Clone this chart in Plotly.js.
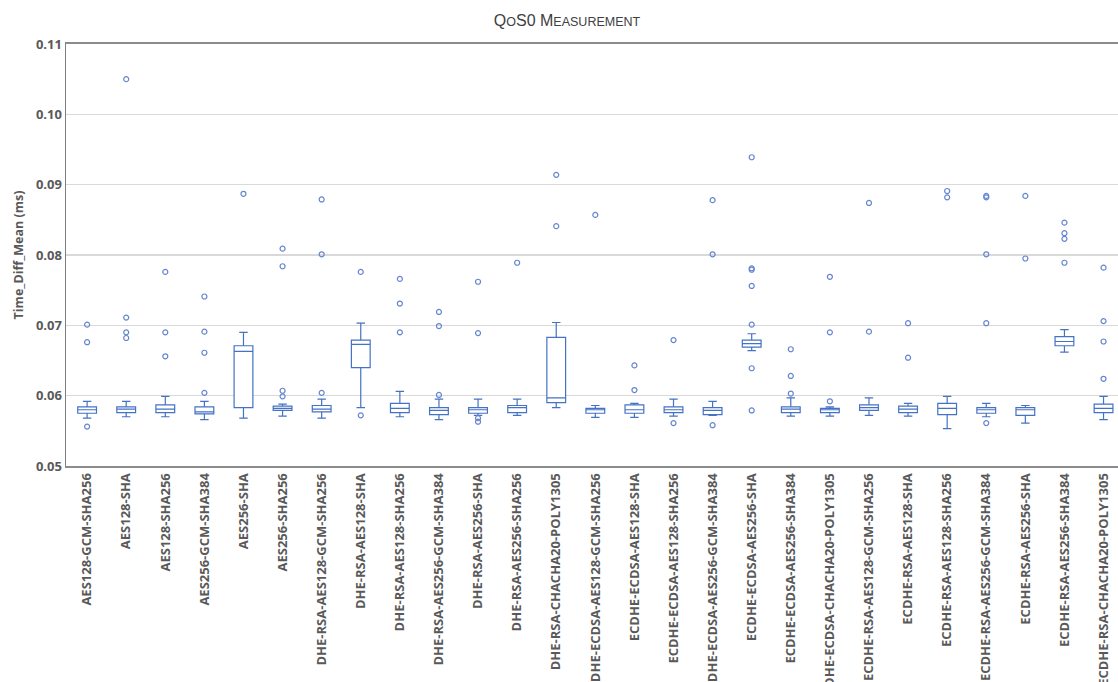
<!DOCTYPE html>
<html>
<head>
<meta charset="utf-8">
<script src="https://cdn.plot.ly/plotly-3.0.1.min.js"></script>
<style>html,body{margin:0;padding:0;background:#fff;}#chart{width:1118px;height:682px;}</style>
</head>
<body>
<div id="chart"></div>
<script>
var categories = [
  "AES128-GCM-SHA256","AES128-SHA","AES128-SHA256","AES256-GCM-SHA384","AES256-SHA","AES256-SHA256",
  "DHE-RSA-AES128-GCM-SHA256","DHE-RSA-AES128-SHA","DHE-RSA-AES128-SHA256","DHE-RSA-AES256-GCM-SHA384",
  "DHE-RSA-AES256-SHA","DHE-RSA-AES256-SHA256","DHE-RSA-CHACHA20-POLY1305","ECDHE-ECDSA-AES128-GCM-SHA256",
  "ECDHE-ECDSA-AES128-SHA","ECDHE-ECDSA-AES128-SHA256","ECDHE-ECDSA-AES256-GCM-SHA384","ECDHE-ECDSA-AES256-SHA",
  "ECDHE-ECDSA-AES256-SHA384","ECDHE-ECDSA-CHACHA20-POLY1305","ECDHE-RSA-AES128-GCM-SHA256","ECDHE-RSA-AES128-SHA",
  "ECDHE-RSA-AES128-SHA256","ECDHE-RSA-AES256-GCM-SHA384","ECDHE-RSA-AES256-SHA","ECDHE-RSA-AES256-SHA384",
  "ECDHE-RSA-CHACHA20-POLY1305"
];
var lowerFence = [0.0568,0.0570,0.0570,0.0566,0.0568,0.0571,0.0568,0.0583,0.0570,0.0566,0.0572,0.0572,0.0583,0.0569,0.0569,0.0571,0.0572,0.0664,0.0571,0.0571,0.0572,0.0571,0.0553,0.0570,0.0561,0.0662,0.0566];
var q1Values   = [0.0575,0.0576,0.0576,0.0574,0.0583,0.0579,0.0577,0.0640,0.0576,0.0573,0.0575,0.0576,0.0590,0.0575,0.0575,0.0576,0.0573,0.0669,0.0576,0.0576,0.0579,0.0576,0.0573,0.0575,0.0572,0.0671,0.0576];
var medians    = [0.0580,0.0581,0.0581,0.0577,0.0663,0.0582,0.0581,0.0673,0.0582,0.0579,0.0580,0.0583,0.0597,0.0580,0.0580,0.0580,0.0579,0.0674,0.0581,0.0580,0.0583,0.0581,0.0582,0.0580,0.0580,0.0677,0.0582];
var q3Values   = [0.0584,0.0584,0.0587,0.0584,0.0671,0.0585,0.0586,0.0679,0.0589,0.0583,0.0583,0.0586,0.0683,0.0582,0.0587,0.0584,0.0583,0.0679,0.0584,0.0582,0.0587,0.0585,0.0589,0.0583,0.0583,0.0684,0.0588];
var upperFence = [0.0592,0.0592,0.0599,0.0592,0.0690,0.0588,0.0595,0.0703,0.0606,0.0595,0.0595,0.0595,0.0704,0.0586,0.0589,0.0595,0.0592,0.0688,0.0597,0.0584,0.0597,0.0589,0.0599,0.0589,0.0586,0.0694,0.0599];
var outliers = [
  [0.0701,0.0676,0.0556],
  [0.1050,0.0711,0.0690,0.0682],
  [0.0776,0.0690,0.0656],
  [0.0741,0.0691,0.0661,0.0604],
  [0.0887],
  [0.0809,0.0784,0.0607,0.0599],
  [0.0879,0.0801,0.0604],
  [0.0776,0.0572],
  [0.0766,0.0731,0.0690],
  [0.0719,0.0699,0.0601],
  [0.0762,0.0689,0.0568,0.0563],
  [0.0789],
  [0.0914,0.0841],
  [0.0857],
  [0.0643,0.0608],
  [0.0679,0.0561],
  [0.0878,0.0801,0.0558],
  [0.0939,0.0781,0.0779,0.0756,0.0701,0.0639,0.0579],
  [0.0666,0.0628,0.0603],
  [0.0769,0.0690,0.0592],
  [0.0874,0.0691],
  [0.0703,0.0654],
  [0.0891,0.0882],
  [0.0884,0.0882,0.0801,0.0703,0.0561],
  [0.0884,0.0795],
  [0.0846,0.0831,0.0823,0.0789],
  [0.0782,0.0706,0.0677,0.0624]
];
var yTickValues = [0.05,0.06,0.07,0.08,0.09,0.10,0.11];
var yTickLabels = ["0.05","0.06","0.07","0.08","0.09","0.10","0.11"];

var outX = [], outY = [];
for (var i = 0; i < categories.length; i++) {
  for (var j = 0; j < outliers[i].length; j++) { outX.push(categories[i]); outY.push(outliers[i][j]); }
}

var blue = '#4472C4';
var traces = [
  {
    type: 'box', x: categories,
    q1: q1Values, median: medians, q3: q3Values,
    lowerfence: lowerFence, upperfence: upperFence,
    boxpoints: false, width: 0.48, whiskerwidth: 0.45,
    line: {color: blue, width: 1.2}, fillcolor: '#ffffff',
    showlegend: false, hoverinfo: 'skip'
  },
  {
    type: 'scatter', mode: 'markers', x: outX, y: outY,
    marker: {symbol: 'circle-open', size: 5, color: '#6585cf', line: {width: 1.2}},
    showlegend: false, hoverinfo: 'skip', cliponaxis: true
  }
];

var layout = {
  width: 1118, height: 682,
  margin: {l: 66, r: 0, t: 44, b: 216, pad: 0},
  paper_bgcolor: '#ffffff', plot_bgcolor: '#ffffff',
  font: {family: 'Open Sans, Noto Sans, sans-serif', color: '#595959'},
  title: {
    text: 'Q<span style="font-size:12.5px">O</span>S0 M<span style="font-size:12.5px">EASUREMENT</span>',
    font: {size: 16, color: '#404040', family: 'Liberation Sans, Arial, sans-serif'},
    x: 567/1118, xref: 'container', xanchor: 'center', y: 0.97, yref: 'container', yanchor: 'middle'
  },
  xaxis: {
    type: 'category', categoryarray: categories, categoryorder: 'array',
    range: [-0.54, 26.37], autorange: false,
    showline: true, linecolor: '#8c8c8c', linewidth: 2, mirror: true,
    showgrid: false, zeroline: false, ticks: '', ticklen: 0,
    tickangle: -90, tickfont: {size: 13, color: '#595959', family: 'Open Sans, sans-serif', weight: 'bold'},
    automargin: false
  },
  yaxis: {
    range: [0.05, 0.11], autorange: false,
    tickvals: yTickValues, ticktext: yTickLabels,
    showline: true, linecolor: '#7f7f7f', linewidth: 1.5, mirror: false,
    showgrid: true, gridcolor: '#d9d9d9', gridwidth: 1.5, zeroline: false,
    ticks: '', tickfont: {size: 13, color: '#595959', family: 'Open Sans, sans-serif', weight: 'bold'},
    title: {text: 'Time_Diff_Mean (ms)', font: {size: 12.5, color: '#595959', family: 'Open Sans, sans-serif', weight: 'bold'}, standoff: 9},
    automargin: false
  }
};

Plotly.newPlot('chart', traces, layout, {displayModeBar: false, staticPlot: true});
</script>
</body>
</html>
